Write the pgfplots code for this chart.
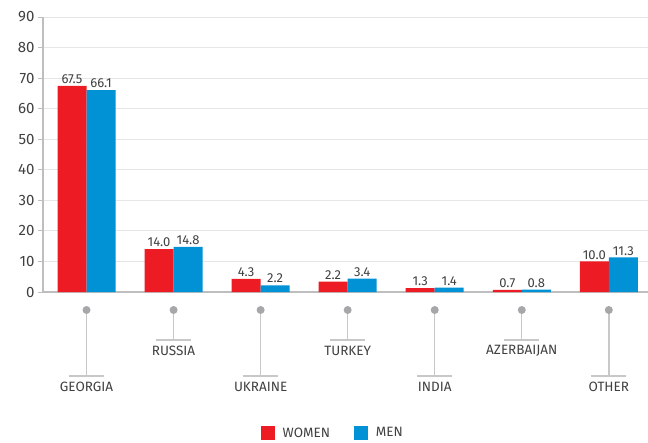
\documentclass[border=0pt]{standalone}
\usepackage{pgfplots}
\pgfplotsset{compat=1.18}
\usepackage{fontspec}
\setmainfont{Fira Sans}
\definecolor{cred}{RGB}{237,28,36}
\definecolor{cblue}{RGB}{0,146,212}
\definecolor{axgray}{RGB}{190,190,190}
\definecolor{gridgray}{RGB}{230,230,230}
\definecolor{pinline}{RGB}{200,200,200}
\definecolor{pindot}{RGB}{167,167,170}
\definecolor{txt}{RGB}{64,64,64}

% category pin below the axis: x, drop of the bar, drop of the label, label
\newcommand{\pin}[4]{%
  \draw[pinline, line width=1.4pt] ([yshift=-18pt]axis cs:#1,0) -- ([yshift=-#2]axis cs:#1,0);
  \draw[pinline, line width=1.4pt] ([yshift=-#2, xshift=-17.5pt]axis cs:#1,0) -- ([yshift=-#2, xshift=17.5pt]axis cs:#1,0);
  \fill[pindot] ([yshift=-18pt]axis cs:#1,0) circle (4pt);
  \node[txt, font=\fontsize{13.5}{13.5}\selectfont] at ([yshift=-#3]axis cs:#1,0) {#4};
}

\begin{document}
\begin{tikzpicture}
  \begin{axis}[
    at={(43pt,150pt)}, anchor=south west,
    scale only axis, width=605pt, height=275pt,
    ymin=0, ymax=90, xmin=-0.5, xmax=6.45,
    ytick={0,10,...,90},
    xtick=\empty,
    axis lines*=left,
    axis line style={axgray, line width=1.3pt},
    y axis line style={line width=1.8pt},
    ymajorgrids, grid style={gridgray, line width=1pt},
    tick align=outside, major tick length=5pt,
    ytick style={axgray, line width=1pt},
    yticklabel style={txt, font=\fontsize{15}{15}\selectfont},
    /pgf/number format/assume math mode=true,
    clip=false,
    ybar, bar width=0.333,
    point meta=explicit,
    nodes near coords,
    nodes near coords style={txt, font=\fontsize{13}{13}\selectfont, inner sep=2pt,
      /pgf/number format/.cd, fixed, fixed zerofill, precision=1},
    legend columns=2,
    legend style={at={(0.479,-0.513)}, anchor=center, draw=none,
      font=\fontsize{13.5}{13.5}\selectfont, text=txt,
      /tikz/every odd column/.append style={column sep=6pt},
      /tikz/every even column/.append style={column sep=22pt}},
    legend image code/.code={\fill[#1] (0pt,-7pt) rectangle (14pt,7pt);},
  ]
    \addplot[fill=cred, draw=none, bar shift=-0.1667] coordinates {
      (0,67.5) [67.5] (1,14.0) [14.0] (2,4.3) [4.3] (3,3.4) [2.2]
      (4,1.3) [1.3] (5,0.7) [0.7] (6,10.0) [10.0]};
    \addplot[fill=cblue, draw=none, bar shift=0.1667] coordinates {
      (0,66.1) [66.1] (1,14.8) [14.8] (2,2.2) [2.2] (3,4.4) [3.4]
      (4,1.4) [1.4] (5,0.8) [0.8] (6,11.3) [11.3]};
    \legend{WOMEN, MEN}

    \pin{0}{84pt}{95pt}{GEORGIA}
    \pin{1}{48pt}{59pt}{RUSSIA}
    \pin{2}{84pt}{95pt}{UKRAINE}
    \pin{3}{48pt}{59pt}{TURKEY}
    \pin{4}{84pt}{95pt}{INDIA}
    \pin{5}{48pt}{59pt}{AZERBAIJAN}
    \pin{6}{84pt}{95pt}{OTHER}
  \end{axis}
  \pgfresetboundingbox
  \path (0,0) rectangle (648pt,442pt);
\end{tikzpicture}
\end{document}
